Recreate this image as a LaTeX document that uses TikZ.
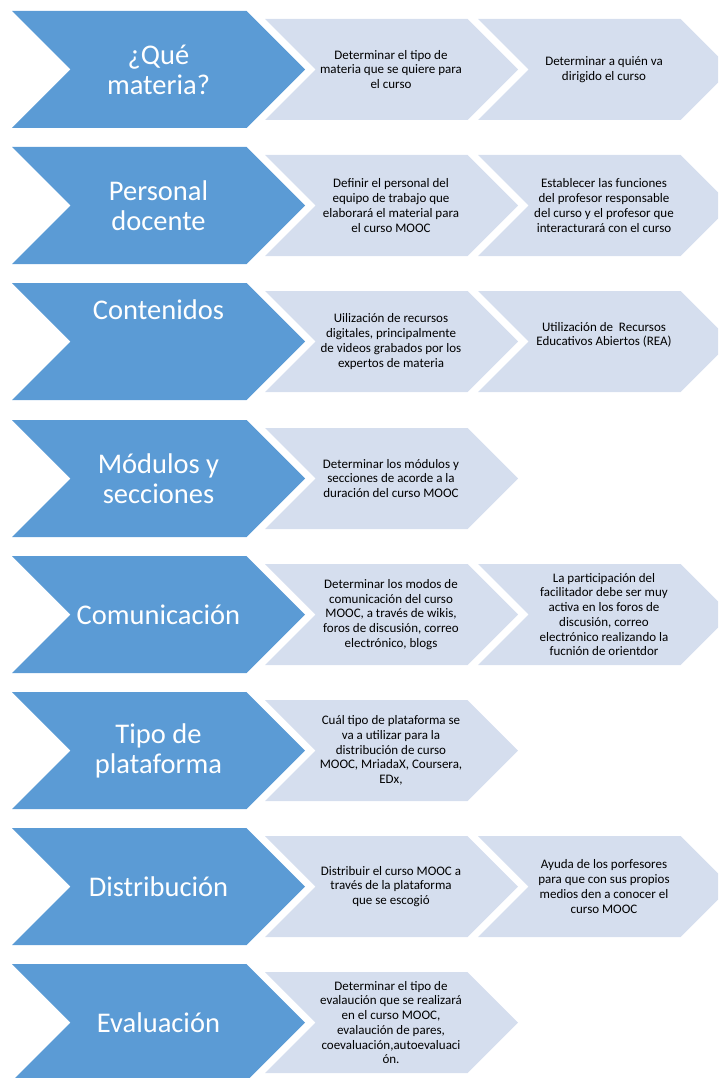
\documentclass[tikz,border=0pt]{standalone}
\usepackage{fontspec}
\setmainfont{Carlito}

\definecolor{stepblue}{RGB}{91,155,213}
\definecolor{steplight}{RGB}{213,222,238}

% chevron: left x, top y, width, height, colour
\newcommand{\chev}[5]{%
  \fill[#5] (#1,#2) -- ++({#3-#4/2},0) -- ++({#4/2},{#4/2}) -- ++({-#4/2},{#4/2})
    -- ++({-#3+#4/2},0) -- ++({#4/2},{-#4/2}) -- cycle;}

\tikzset{
  bluetext/.style={text=white, align=center, font=\fontsize{28.5}{30}\selectfont},
  graytext/.style={text=black, align=center, font=\fontsize{13}{14.7}\selectfont}
}

\begin{document}
\begin{tikzpicture}[x=1pt,y=-1pt]
                \useasboundingbox (0,0) rectangle (718,1078);
                \clip (0,0) rectangle (718,1078);

                % ¿Qué materia?
                \chev{12}{11}{293}{117}{stepblue}
                \chev{265}{19}{253}{101}{steplight}
                \chev{478}{19}{253}{101}{steplight}
                \node[bluetext] (mat) at (158.5,69.5) {¿Qué\\materia?};
                \node[graytext] (matA) at (391,69.5) {Determinar el tipo de\\materia que se quiere para\\el curso};
                \node[graytext] (matB) at (604,69.5) {Determinar a quién va\\dirigido el curso};

                % Personal docente
                \chev{12}{147}{293}{117}{stepblue}
                \chev{265}{155}{253}{101}{steplight}
                \chev{478}{155}{253}{101}{steplight}
                \node[bluetext] (per) at (158.5,205.5) {Personal\\docente};
                \node[graytext] (perA) at (391,205.5) {Definir el personal del\\equipo de trabajo que\\elaborará el material para\\el curso MOOC};
                \node[graytext] (perB) at (604,205.5) {Establecer las funciones\\del profesor responsable\\del curso y el profesor que\\interacturará con el curso};

                % Contenidos
                \chev{12}{283}{293}{117}{stepblue}
                \chev{265}{291}{253}{101}{steplight}
                \chev{478}{291}{253}{101}{steplight}
                \node[bluetext] (con) at (158.5,310) {Contenidos};
                \node[graytext] (conA) at (391,341.5) {Uilización de recursos\\digitales, principalmente\\de videos grabados por los\\expertos de materia};
                \node[graytext] (conB) at (604,335) {Utilización de \ Recursos\\Educativos Abiertos (REA)};

                % Módulos y secciones
                \chev{12}{420}{293}{117}{stepblue}
                \chev{265}{428}{253}{101}{steplight}
                \node[bluetext] (mod) at (158.5,478.5) {Módulos y\\secciones};
                \node[graytext] (modA) at (391,478.5) {Determinar los módulos y\\secciones de acorde a la\\duración del curso MOOC};

                % Comunicación
                \chev{12}{556}{293}{117}{stepblue}
                \chev{265}{564}{253}{101}{steplight}
                \chev{478}{564}{253}{101}{steplight}
                \node[bluetext] (com) at (158.5,614.5) {Comunicación};
                \node[graytext] (comA) at (391,614.5) {Determinar los modos de\\comunicación del curso\\MOOC, a través de wikis,\\foros de discusión, correo\\electrónico, blogs};
                \node[graytext] (comB) at (604,614.5) {La participación del\\facilitador debe ser muy\\activa en los foros de\\discusión, correo\\electrónico realizando la\\fucnión de orientdor};

                % Tipo de plataforma
                \chev{12}{692}{293}{117}{stepblue}
                \chev{265}{700}{253}{101}{steplight}
                \node[bluetext] (pla) at (158.5,750.5) {Tipo de\\plataforma};
                \node[graytext] (plaA) at (391,750.5) {Cuál tipo de plataforma se\\va a utilizar para la\\distribución de curso\\MOOC, MriadaX, Coursera,\\EDx,};

                % Distribución
                \chev{12}{828}{293}{117}{stepblue}
                \chev{265}{836}{253}{101}{steplight}
                \chev{478}{836}{253}{101}{steplight}
                \node[bluetext] (dis) at (158.5,886.5) {Distribución};
                \node[graytext] (disA) at (391,886.5) {Distribuir el curso MOOC a\\través de la plataforma\\que se escogió};
                \node[graytext] (disB) at (604,886.5) {Ayuda de los porfesores\\para que con sus propios\\medios den a conocer el\\curso MOOC};

                % Evaluación
                \chev{12}{964}{293}{117}{stepblue}
                \chev{265}{972}{253}{101}{steplight}
                \node[bluetext] (eva) at (158.5,1022.5) {Evaluación};
                \node[graytext] (evaA) at (391,1022.5) {Determinar el tipo de\\evalaución que se realizará\\en el curso MOOC,\\evalaución de pares,\\coevaluación,autoevaluaci\\ón.};
            \end{tikzpicture}
\end{document}
